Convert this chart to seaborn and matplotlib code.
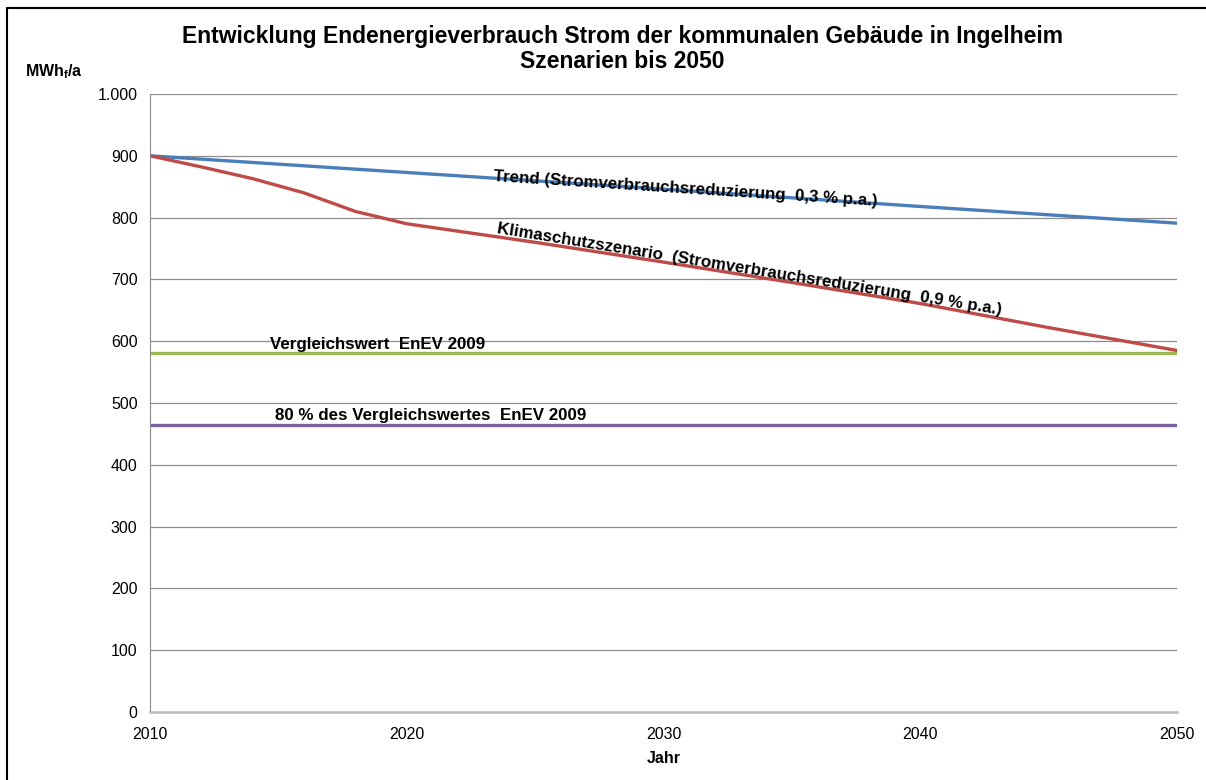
import matplotlib
matplotlib.use("Agg")
import matplotlib.pyplot as plt
from matplotlib.lines import Line2D
import seaborn as sns
import pandas as pd

# Data
trend_years = [2010, 2020, 2030, 2040, 2050]
trend_values = [900, 873, 846, 818, 791]

klima_years = [2010, 2012, 2014, 2016, 2018, 2020, 2025, 2030, 2035, 2040, 2045, 2050]
klima_values = [900, 882, 863, 840, 810, 790, 760, 728, 695, 661, 622, 585]

enev_years = [2010, 2050]
enev_values = [581, 581]
enev80_values = [465, 465]

yticks = [0, 100, 200, 300, 400, 500, 600, 700, 800, 900, 1000]
ytick_labels = ["0", "100", "200", "300", "400", "500", "600", "700", "800", "900", "1.000"]
xticks = [2010, 2020, 2030, 2040, 2050]

sns.set_style("white")
plt.rcParams["font.family"] = ["Liberation Sans", "DejaVu Sans"]
plt.rcParams["mathtext.fontset"] = "custom"
plt.rcParams["mathtext.bf"] = "Liberation Sans:bold"
plt.rcParams["mathtext.rm"] = "Liberation Sans"
plt.rcParams["text.color"] = "black"
plt.rcParams["axes.labelcolor"] = "black"
plt.rcParams["xtick.labelcolor"] = "black"
plt.rcParams["ytick.labelcolor"] = "black"

fig = plt.figure(figsize=(12.06, 7.8), dpi=100)
ax = fig.add_axes([150 / 1206, 1 - 712 / 780, 1027 / 1206, 618 / 780])

df_trend = pd.DataFrame({"Jahr": trend_years, "Wert": trend_values})
df_klima = pd.DataFrame({"Jahr": klima_years, "Wert": klima_values})
df_enev = pd.DataFrame({"Jahr": enev_years, "Wert": enev_values})
df_enev80 = pd.DataFrame({"Jahr": enev_years, "Wert": enev80_values})

sns.lineplot(data=df_enev80, x="Jahr", y="Wert", color="#7D60A0", lw=2.4, ax=ax)
sns.lineplot(data=df_enev, x="Jahr", y="Wert", color="#98B954", lw=2.4, ax=ax)
sns.lineplot(data=df_trend, x="Jahr", y="Wert", color="#4A7EBB", lw=2.4, ax=ax)
sns.lineplot(data=df_klima, x="Jahr", y="Wert", color="#BE4B48", lw=2.4, ax=ax)

ax.set_xlim(2010, 2050)
ax.set_ylim(0, 1000)
ax.set_yticks(yticks)
ax.set_yticklabels(ytick_labels)
ax.set_xticks(xticks)
ax.yaxis.grid(True, color="#8C8C8C", lw=0.9)
ax.set_axisbelow(True)
for s in ["top", "right"]:
    ax.spines[s].set_visible(False)
ax.spines["left"].set_color("#8C8C8C")
ax.spines["bottom"].set_color("#BBBBBB")
ax.spines["bottom"].set_linewidth(1.8)
ax.tick_params(axis="both", which="major", direction="out", length=5, width=0.9,
               color="#8C8C8C", labelsize=11.5, pad=4)
ax.tick_params(axis="x", pad=6)

ax.set_ylabel("")
ax.set_xlabel("Jahr", fontsize=11.5, fontweight="bold", labelpad=6)

# line labels
lab = dict(fontsize=12.2, fontweight="bold", rotation_mode="anchor", ha="left", va="baseline")
ax.text(2023.36, 860, "Trend (Stromverbrauchsreduzierung  0,3 % p.a.)", rotation=-3.7, **lab)
ax.text(2023.5, 775, "Klimaschutzszenario  (Stromverbrauchsreduzierung  0,9 % p.a.)", rotation=-9.2, **lab)
ax.text(2014.67, 587, "Vergleichswert  EnEV 2009", **lab)
ax.text(2014.87, 472, "80 % des Vergleichswertes  EnEV 2009", **lab)

fig.text(622 / 1206, 1 - 36 / 780, "Entwicklung Endenergieverbrauch Strom der kommunalen Gebäude in Ingelheim",
         ha="center", va="center", fontsize=16.5, fontweight="bold")
fig.text(622 / 1206, 1 - 62 / 780, "Szenarien bis 2050",
         ha="center", va="center", fontsize=16.5, fontweight="bold")
fig.text(25 / 1206, 1 - 72 / 780, r"$\mathbf{MWh_f/a}$", ha="left", va="center", fontsize=11.5)

# chart frame (top and left visible)
fig.add_artist(Line2D([7 / 1206, 7 / 1206], [0, 1 - 8 / 780], transform=fig.transFigure, color="black", lw=1.5))
fig.add_artist(Line2D([7 / 1206, 1], [1 - 8 / 780, 1 - 8 / 780], transform=fig.transFigure, color="black", lw=1.5))

fig.savefig("out.png", dpi=100)
